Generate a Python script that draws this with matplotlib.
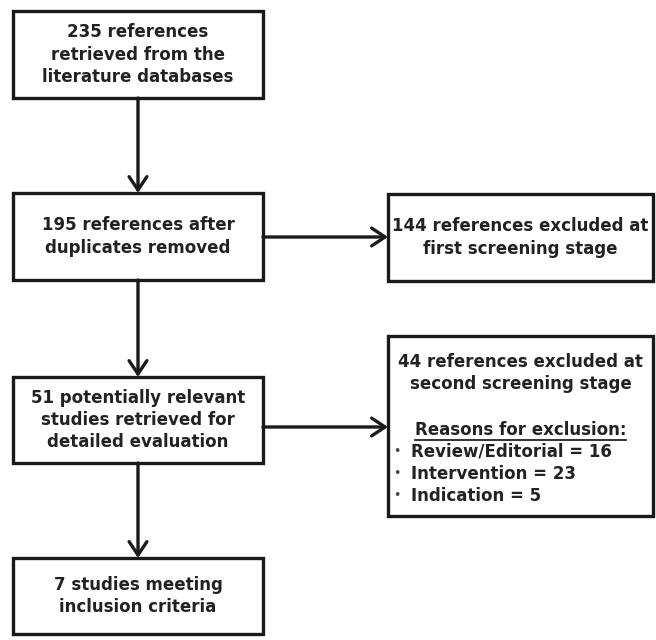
import matplotlib
matplotlib.use("Agg")
import matplotlib.pyplot as plt
from matplotlib.patches import Rectangle, FancyArrowPatch

# flow boxes (main column) and exclusion boxes (right column)
main_texts = [
    "235 references\nretrieved from the\nliterature databases",
    "195 references after\nduplicates removed",
    "51 potentially relevant\nstudies retrieved for\ndetailed evaluation",
    "7 studies meeting\ninclusion criteria",
]
excl_texts = [
    "144 references excluded at\nfirst screening stage",
    "44 references excluded at\nsecond screening stage",
]
reasons_title = "Reasons for exclusion:"
reasons = ["Review/Editorial = 16", "Intervention = 23", "Indication = 5"]

# layout in pixels (x0, y0, x1, y1)
main_boxes = [(13, 11, 263, 98), (13, 193, 263, 280), (13, 377, 263, 463), (13, 558, 263, 634)]
excl_boxes = [(388, 194, 653, 281), (388, 336, 653, 516)]

TXT = "#222222"
LW = 2.4
FS = 12

fig = plt.figure(figsize=(6.56, 6.4), dpi=100)
ax = fig.add_axes([0, 0, 1, 1])
ax.set_xlim(0, 656)
ax.set_ylim(640, 0)
ax.axis("off")


def box(b):
    x0, y0, x1, y1 = b
    ax.add_patch(Rectangle((x0, y0), x1 - x0, y1 - y0, fill=False,
                           edgecolor="#1a1a1a", linewidth=LW, joinstyle="miter"))


def arrow(p0, p1):
    ax.add_patch(FancyArrowPatch(p0, p1, arrowstyle="->,head_length=6,head_width=4",
                                 mutation_scale=1.6, color="#1a1a1a", linewidth=LW,
                                 shrinkA=0, shrinkB=0))


for b, t in zip(main_boxes, main_texts):
    box(b)
    ax.text((b[0] + b[2]) / 2, (b[1] + b[3]) / 2, t, ha="center", va="center",
            fontsize=FS, fontweight="bold", color=TXT, linespacing=1.3)

b = excl_boxes[0]
box(b)
ax.text((b[0] + b[2]) / 2, (b[1] + b[3]) / 2, excl_texts[0], ha="center", va="center",
        fontsize=FS, fontweight="bold", color=TXT, linespacing=1.3)

b = excl_boxes[1]
box(b)
cx = (b[0] + b[2]) / 2
ax.text(cx, b[1] + 37, excl_texts[1], ha="center", va="center",
        fontsize=FS, fontweight="bold", color=TXT, linespacing=1.3)
title = ax.text(cx, b[1] + 94, reasons_title, ha="center", va="center",
                fontsize=FS, fontweight="bold", color=TXT)
for i, r in enumerate(reasons):
    y = b[1] + 116 + 22 * i
    ax.text(397, y, "•", ha="center", va="center", fontsize=9, color="#444444")
    ax.text(411, y, r, ha="left", va="center", fontsize=FS, fontweight="bold", color=TXT)

# underline for the reasons heading
fig.canvas.draw()
bb = title.get_window_extent().transformed(ax.transData.inverted())
ax.plot([bb.x0, bb.x1], [bb.y0 + 1, bb.y0 + 1], color=TXT, linewidth=1.3)

# connectors
cxm = (main_boxes[0][0] + main_boxes[0][2]) / 2
for a, c in zip(main_boxes[:-1], main_boxes[1:]):
    arrow((cxm, a[3]), (cxm, c[1]))
arrow((263, 237), (388, 237))
arrow((263, 427), (388, 427))

fig.savefig("out.png", dpi=100)
